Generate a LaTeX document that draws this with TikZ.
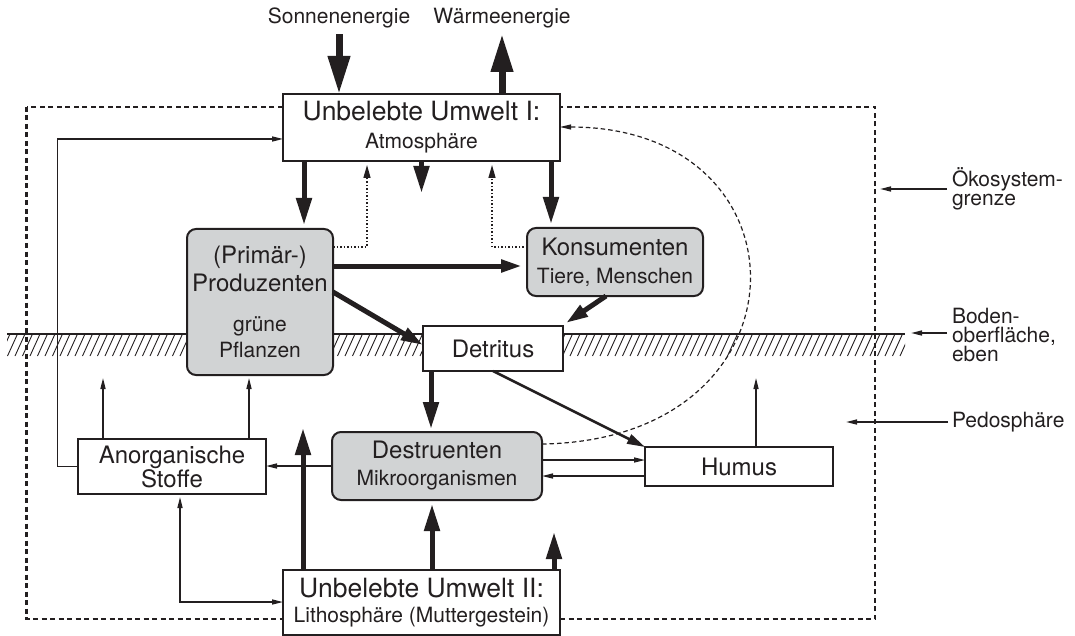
\documentclass[tikz,border=0pt]{standalone}
\usepackage{fontspec}
\setmainfont{TeX Gyre Heros}
\usetikzlibrary{arrows.meta}
\definecolor{ink}{RGB}{35,31,32}
\definecolor{boxgray}{RGB}{209,211,212}
\newcommand\fL{\fontsize{26.5}{28}\selectfont}
\newcommand\fM{\fontsize{24}{28}\selectfont}
\newcommand\fS{\fontsize{21}{26}\selectfont}
\newcommand\fOeko{\fontsize{21}{19}\selectfont\lineskiplimit=-20pt\relax}
\newcommand\fBoden{\fontsize{21}{19}\selectfont\lineskiplimit=-20pt\relax}
\begin{document}
\begin{tikzpicture}[x=1pt,y=-1pt,
  every node/.style={inner sep=0pt, outer sep=0pt, text=ink, font=\fS},
  lbox/.style={draw=ink, line width=2pt, fill=white, align=center},
  gbox/.style={draw=ink, line width=2pt, fill=boxgray, rounded corners=9pt, align=center},
  bigarr/.style={draw=ink, line width=7pt, -{Triangle[length=38pt,width=21pt]}},
  thickarr/.style={draw=ink, line width=5pt, -{Triangle[length=27pt,width=15pt]}},
  horarr/.style={draw=ink, line width=5pt, -{Triangle[length=21pt,width=12pt]}},
  diagarr/.style={draw=ink, line width=5pt, -{Triangle[length=22pt,width=13pt]}},
  medarr/.style={draw=ink, line width=2.5pt, -{Triangle[length=18pt,width=10pt]}},
  thinarr/.style={draw=ink, line width=1.3pt, -{Triangle[length=11pt,width=5pt]}},
  dotarr/.style={draw=ink, line width=1.3pt, dash pattern=on 1.5pt off 2pt, -{Triangle[length=13pt,width=7pt]}},
  curvearr/.style={draw=ink, line width=1.2pt, dash pattern=on 4.5pt off 3pt, -{Triangle[length=11pt,width=5pt]}},
  boundary/.style={draw=ink, line width=2.2pt, dash pattern=on 5pt off 3.5pt},
]
\useasboundingbox (0,0) rectangle (1075,636);

% ecosystem boundary
\draw[boundary] (26.5,107) rectangle (875,619);

% soil surface with hatching
\begin{scope}
  \clip (7,334) rectangle (905,356);
  \foreach \i in {0,...,125} \draw[line width=0.9pt, ink] ({\i*7.5},356) -- ({\i*7.5+10},334);
\end{scope}
\draw[ink, line width=1.2pt] (7,334) -- (905,334);

% top labels
\node (sun) at (339,18) {Sonnenenergie};
\node (waerme) at (502,18) {Wärmeenergie};

% boxes
\node[lbox, minimum width=277pt, minimum height=67pt] (atm) at (421.5,127.5)
  {{\fL Unbelebte Umwelt I:}\\[2pt]{\fS Atmosphäre}};
\node[gbox, minimum width=146pt, minimum height=146pt] (prod) at (260,302)
  {{\fM (Primär-)}\\[2pt]{\fM Produzenten}\\[14pt]{\fS grüne}\\{\fS Pflanzen}};
\node[gbox, minimum width=176pt, minimum height=68pt] (kons) at (615,262)
  {{\fM Konsumenten}\\[2pt]{\fS Tiere, Menschen}};
\node[lbox, minimum width=140pt, minimum height=45pt] (detr) at (493,348.5)
  {\fM Detritus};
\node[gbox, minimum width=210pt, minimum height=68pt] (destr) at (437,466)
  {{\fM Destruenten}\\[1pt]{\fS Mikroorganismen}};
\node[lbox, minimum width=188pt, minimum height=39pt] (humus) at (739,466.5)
  {\fM Humus};
\node[lbox, minimum width=188pt, minimum height=55pt] (anorg) at (172,466.5)
  {{\fM Anorganische}\\[-2pt]{\fM Stoffe}};
\node[lbox, minimum width=277pt, minimum height=65pt] (litho) at (421.5,602.5)
  {{\fL Unbelebte Umwelt II:}\\[-1pt]{\fS Lithosphäre (Muttergestein)}};

% right labels
\node[anchor=west, align=left, font=\fOeko] (oeko) at (952,189)
  {Ökosystem-\\grenze};
\node[anchor=west, align=left, font=\fBoden] (boden) at (952,335)
  {Boden-\\oberfläche,\\eben};
\node[anchor=west] (pedo) at (952,422) {Pedosphäre};

% energy arrows
\draw[bigarr] ([yshift=-6pt]sun.south) -- (sun.south |- atm.north);
\draw[bigarr] (waerme.south |- atm.north) -- ([yshift=-6pt]waerme.south);

% atmosphere outputs
\draw[thickarr, shorten >=4pt] ([xshift=21pt]atm.south west) -- ([xshift=21pt]atm.south west |- prod.north);
\draw[thickarr] (atm.south) -- ++(0,32);
\draw[thickarr, shorten >=4pt] ([xshift=-9pt]atm.south east) -- ([xshift=-9pt]atm.south east |- kons.north);

% dotted returns
\draw[dotarr, shorten >=4pt] ([yshift=-18pt]prod.north east) -| ([xshift=84pt]atm.south west);
\draw[dotarr, shorten >=4pt] ([yshift=-19pt]kons.north west) -| ([xshift=209pt]atm.south west);

% food chain
\draw[horarr, shorten >=5pt] ([yshift=-37pt]prod.north east) -- ([yshift=-37pt]prod.north east -| kons.west);
\draw[diagarr] ([yshift=-63pt]prod.north east) -- ([yshift=-19pt]detr.north west);
\draw[diagarr] ([xshift=79pt]kons.south west) -- ([xshift=3pt,yshift=3pt]detr.north east);
\draw[thickarr, shorten >=3pt] ([xshift=8pt]detr.south west) -- ([xshift=8pt]detr.south west |- destr.north);
\draw[medarr] ([xshift=70pt]detr.south west) -- (humus.north west);

% destruents / humus
\draw[thinarr] ([yshift=-28pt]destr.north east) -- ([yshift=-28pt]destr.north east -| humus.west);
\draw[thinarr] ([yshift=10pt]humus.south west) -- ([yshift=10pt]humus.south west -| destr.east);
\draw[thinarr] ([xshift=111pt]humus.north west) -- ++(0,-69);
\draw[curvearr] ([yshift=-12pt]destr.north east) .. controls (815,440) and (815,127) .. ([yshift=-33pt]atm.north east);

% inorganic substances
\draw[thinarr] (destr.west) -- (destr.west -| anorg.east);
\draw[thinarr] ([xshift=25pt]anorg.north west) -- ++(0,-61);
\draw[thinarr] ([xshift=-17pt]anorg.north east) -- ++(0,-61);
\draw[thinarr] (anorg.west) -- ++(-20.4,0) |- ([yshift=-45pt]atm.north west);
\draw[thinarr, {Triangle[length=11pt,width=5pt]}-{Triangle[length=11pt,width=5pt]}, shorten <=3pt]
  ([xshift=8pt]anorg.south) |- ([yshift=-32pt]litho.north west);

% lithosphere outputs
\draw[thickarr] ([xshift=20pt]litho.north west) -- ++(0,-142);
\draw[thickarr, shorten >=4pt] ([xshift=149pt]litho.north west) -- ([xshift=149pt]litho.north west |- destr.south);
\draw[thickarr] ([xshift=-6pt]litho.north east) -- ++(0,-38);

% right label arrows
\draw[thinarr] ([xshift=-5pt]oeko.west) -- ++(-67,0);
\draw[thinarr] ([xshift=-5pt,yshift=2pt]boden.west) -- ++(-36,0);
\draw[thinarr] ([xshift=-4pt]pedo.west) -- ++(-102,0);
\end{tikzpicture}
\end{document}
